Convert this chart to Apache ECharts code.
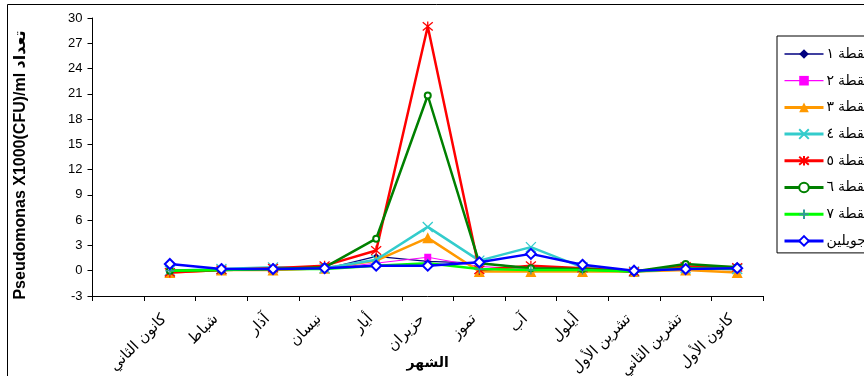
<!DOCTYPE html>
<html><head><meta charset="utf-8">
<script src="https://cdn.jsdelivr.net/npm/echarts@6/dist/echarts.min.js"></script>
<style>html,body{margin:0;padding:0;background:#fff}#c{width:864px;height:376px}</style>
</head><body><div id="c"></div>
<script>
const categories = ['', 'كانون الثاني','شباط','آذار','نيسان','أيار','حزيران','تموز','آب','أيلول','تشرين الأول','تشرين الثاني','كانون الأول'];
const yTicks = { min: -3, max: 30, interval: 3 };
const seriesNames = ['نقطة ١','نقطة ٢','نقطة ٣','نقطة ٤','نقطة ٥','نقطة ٦','نقطة ٧','جويلين'];
const s1 = [null, 0.0, 0.1, 0.1, 0.2, 1.7, 1.1, 0.9, 0.3, 0.2, 0.0, 0.2, 0.2];
const s2 = [null, 0.0, 0.1, 0.1, 0.2, 0.9, 1.6, 0.5, 0.2, 0.1, 0.0, 0.2, 0.1];
const s3 = [null, -0.2, 0.1, 0.1, 0.3, 1.2, 3.9, -0.1, -0.1, -0.1, -0.1, 0.1, -0.2];
const s4 = [null, 0.0, 0.2, 0.4, 0.3, 1.3, 5.2, 1.2, 2.8, 0.4, -0.1, 0.3, 0.2];
const s5 = [null, -0.2, 0.1, 0.3, 0.6, 2.4, 29.0, 0.1, 0.6, 0.3, -0.1, 0.5, 0.4];
const s6 = [null, 0.0, 0.1, 0.2, 0.4, 3.8, 20.8, 0.9, 0.3, 0.2, -0.1, 0.8, 0.4];
const s7 = [null, 0.0, 0.1, 0.2, 0.2, 0.6, 0.9, 0.2, 0.1, 0.1, -0.1, 0.3, 0.2];
const s8 = [null, 0.8, 0.2, 0.2, 0.3, 0.6, 0.6, 1.0, 2.0, 0.7, 0.0, 0.2, 0.3];
const values = [s1, s2, s3, s4, s5, s6, s7, s8];

const FONT = '"Liberation Sans", Arial, "DejaVu Sans", sans-serif';
const styles = [
  { line: '#000080', lw: 1.2, sym: 'diamond', size: 7, fill: '#000080', border: '#000080', bw: 0 },
  { line: '#FF00FF', lw: 1, sym: 'rect', size: 7, fill: '#FF00FF', border: '#FF00FF', bw: 0 },
  { line: '#FF9900', lw: 2.5, sym: 'triangle', size: 11, fill: '#FF9900', border: '#FF9900', bw: 0 },
  { line: '#33CCCC', lw: 2.5, sym: 'path://M0,0L10,10M0,10L10,0', size: 10, fill: '#33CCCC', border: '#33CCCC', bw: 1.3 },
  { line: '#FF0000', lw: 2.5, sym: 'path://M0,0L10,10M0,10L10,0M5,-1L5,11', size: 10, fill: '#FF0000', border: '#FF0000', bw: 1.3 },
  { line: '#008000', lw: 2.5, sym: 'emptyCircle', size: 6, fill: '#008000', border: '#008000', bw: 1.3 },
  { line: '#00FF00', lw: 2.5, sym: 'path://M5,0L5,10M0,5L10,5', size: 9, fill: '#339999', border: '#339999', bw: 1.3 },
  { line: '#0000FF', lw: 2.5, sym: 'emptyDiamond', size: 10, fill: '#0000FF', border: '#0000FF', bw: 1.5 }
];

const series = values.map((v, i) => ({
  name: seriesNames[i],
  type: 'line',
  data: v,
  symbol: styles[i].sym,
  symbolSize: styles[i].size,
  showAllSymbol: true,
  connectNulls: false,
  lineStyle: { color: styles[i].line, width: styles[i].lw },
  itemStyle: { color: styles[i].fill, borderColor: styles[i].border, borderWidth: styles[i].bw },
  emphasis: { disabled: true },
  z: 2 + i
}));

const legendData = seriesNames.map((n, i) => ({
  name: n,
  lineStyle: { width: styles[i].lw > 2 ? 3 : 1.3, color: styles[i].line }
}));

const chart = echarts.init(document.getElementById('c'), null, { renderer: 'canvas' });
chart.setOption({
  animation: false,
  backgroundColor: '#fff',
  textStyle: { fontFamily: FONT },
  grid: { left: 92.5, right: 101, top: 18, bottom: 80, containLabel: false, outerBoundsMode: 'none' },
  legend: {
    orient: 'vertical',
    left: 777, top: 36,
    padding: [11, 12, 5, 6],
    itemWidth: 39, itemHeight: 12, itemGap: 12.7,
    borderColor: '#000', borderWidth: 1, backgroundColor: '#fff',
    textStyle: { fontSize: 14, color: '#000', fontFamily: FONT, padding: [0, 0, 0, -2] },
    data: legendData
  },
  xAxis: {
    type: 'category',
    data: categories,
    boundaryGap: true,
    name: 'الشهر',
    nameLocation: 'middle',
    nameGap: 60,
    nameMoveOverlap: false,
    nameTextStyle: { fontSize: 14, fontWeight: 'bold', color: '#000', fontFamily: FONT },
    axisLine: { onZero: false, lineStyle: { color: '#000', width: 1 } },
    axisTick: { show: true, interval: 0, alignWithLabel: false, length: 5, lineStyle: { color: '#000' } },
    axisLabel: { interval: 0, rotate: 45, margin: 15, padding: [0, 8, 0, 0], fontSize: 15, color: '#000', fontFamily: FONT },
    splitLine: { show: false }
  },
  yAxis: {
    type: 'value',
    min: yTicks.min, max: yTicks.max, interval: yTicks.interval,
    axisLine: { show: true, lineStyle: { color: '#000', width: 1 } },
    axisTick: { show: true, length: 5, lineStyle: { color: '#000' } },
    axisLabel: { margin: 10, fontSize: 13, color: '#000', fontFamily: FONT },
    splitLine: { show: false }
  },
  graphic: [
    { type: 'rect', shape: { x: 7.5, y: 4.5, width: 900, height: 400 }, style: { fill: 'none', stroke: '#000', lineWidth: 1 }, silent: true, z: -1 },
    { type: 'text', x: 21, y: 165, rotation: Math.PI / 2,
      style: { text: 'Pseudomonas X1000(CFU)/ml تعداد', fontSize: 16, fontWeight: 'bold', fill: '#000', fontFamily: FONT, align: 'center', verticalAlign: 'middle' } }
  ],
  series: series
});
</script></body></html>
